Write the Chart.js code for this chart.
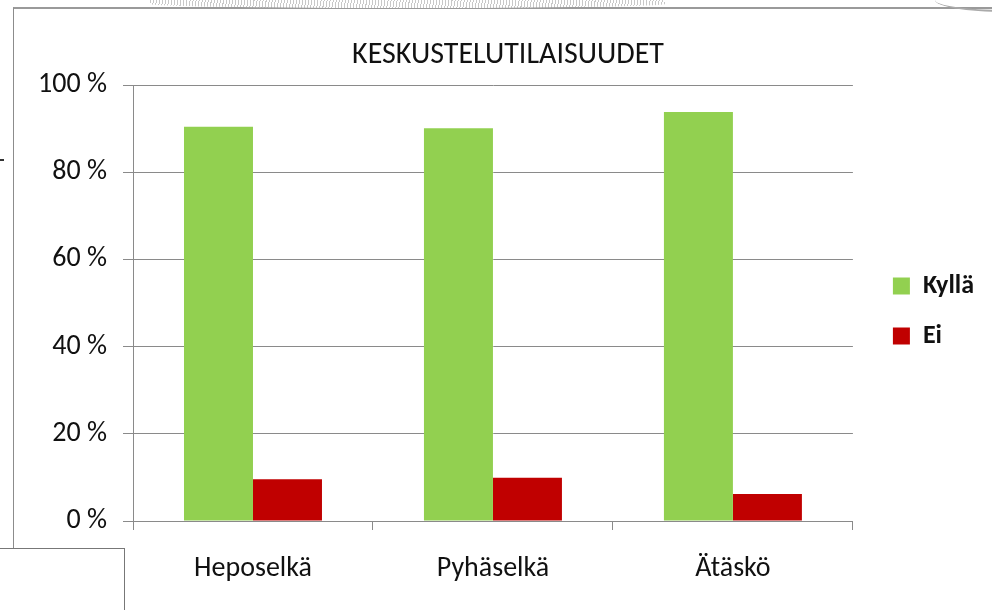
<!DOCTYPE html>
<html>
<head>
<meta charset="utf-8">
<title>Keskustelutilaisuudet</title>
<script src="https://cdn.jsdelivr.net/npm/chart.js@4.4.0/dist/chart.umd.min.js"></script>
<style>
    html, body { margin: 0; padding: 0; background: #fff; overflow: hidden; }
    #wrap { position: relative; width: 992px; height: 610px; }
    #frame { position: absolute; left: 13px; top: 7px; width: 1000px; height: 700px;
             border-left: 1px solid #8c8c8c; border-top: 2px solid #9a9a9a; }
    #scan { position: absolute; left: 150px; top: 0; width: 515px; height: 8px;
            border-radius: 0 0 50% 50%;
            background: repeating-linear-gradient(100deg, #c8c8c8 0 1px, #fff 1px 3px); }
    #scan2 { position: absolute; left: 935px; top: 0; width: 70px; height: 10px;
             border-bottom: 2px solid #aaa; border-radius: 0 0 0 100%; }
    #dash { position: absolute; left: 0; top: 159px; width: 4px; height: 2px; background: #333; }
    #note { position: absolute; left: -1px; top: 548px; width: 125px; height: 80px;
            background: #fff; border-top: 1px solid #777; border-right: 1px solid #777; z-index: 2; }
    #chartBox { position: absolute; left: 0; top: 0; width: 992px; height: 610px; }
</style>
</head>
<body>
<div id="wrap">
    <div id="frame"></div>
    <div id="scan"></div>
    <div id="scan2"></div>
    <div id="dash"></div>
    <div id="chartBox"><canvas id="keskustelu"></canvas></div>
    <div id="note"></div>
</div>
<script>
(function () {
    "use strict";

    var paikat = ["Heposelkä", "Pyhäselkä", "Ätäskö"];
    var kylla = [90.4, 90.1, 93.8];
    var ei = [9.6, 9.9, 6.2];
    var yTicks = [0, 20, 40, 60, 80, 100];

    var fontFamily = "Carlito, Lato, 'Open Sans', sans-serif";
    var textColor = "#111";
    var lineColor = "#8a8a8a";

    // excel-ish placement: legend a bit off the plot, title over the plot
    var nudge = {
        id: "nudge",
        afterLayout: function (chart) {
            var lg = chart.legend;
            var w = lg.width;
            lg.left = chart.chartArea.right + 16;
            lg.right = lg.left + w;
            lg.top += 6;
            lg.bottom += 6;

            var tb = chart.titleBlock;
            tb.left += 24;
            tb.right += 24;
        }
    };

    const ctx = document.getElementById("keskustelu").getContext("2d");
    new Chart(ctx, {
        type: "bar",
        data: {
            labels: paikat,
            datasets: [
                {
                    label: "Kyllä",
                    data: kylla,
                    backgroundColor: "#92D050",
                    borderWidth: 0,
                },
                {
                    label: "Ei",
                    data: ei,
                    backgroundColor: "#C00000",
                    borderWidth: 0,
                },
            ],
        },
        options: {
            responsive: true,
            maintainAspectRatio: false,
            animation: false,
            layout: {
                padding: { top: 0, right: 24, bottom: 0, left: 0 },
            },
            datasets: {
                bar: {
                    categoryPercentage: 0.575,
                    barPercentage: 1.0,
                },
            },
            scales: {
                x: {
                    grid: {
                        offset: true,
                        drawOnChartArea: false,
                        drawTicks: true,
                        tickLength: 9,
                        color: lineColor,
                    },
                    border: { color: lineColor },
                    ticks: {
                        color: textColor,
                        padding: 22,
                        font: { family: fontFamily, size: 28 },
                    },
                    afterFit: function (scale) {
                        scale.height = 89;
                    },
                },
                y: {
                    min: 0,
                    max: 100,
                    afterBuildTicks: function (scale) {
                        scale.ticks = yTicks.map(function (v) {
                            return { value: v };
                        });
                    },
                    grid: {
                        color: lineColor,
                        tickLength: 10,
                    },
                    border: { color: lineColor },
                    ticks: {
                        color: textColor,
                        padding: 16,
                        font: { family: fontFamily, size: 28 },
                        callback: function (value) {
                            return value + " %";
                        },
                    },
                    afterFit: function (scale) {
                        scale.width = 133;
                    },
                },
            },
            plugins: {
                title: {
                    display: true,
                    text: "KESKUSTELUTILAISUUDET",
                    color: textColor,
                    font: { family: fontFamily, size: 30, weight: "normal" },
                    padding: { top: 37, bottom: 12 },
                },
                legend: {
                    position: "right",
                    labels: {
                        boxWidth: 17,
                        boxHeight: 17,
                        padding: 24,
                        color: textColor,
                        font: { family: fontFamily, size: 26, weight: "bold" },
                    },
                },
                tooltip: { enabled: false },
            },
        },
        plugins: [nudge],
    });
})();
</script>
</body>
</html>
